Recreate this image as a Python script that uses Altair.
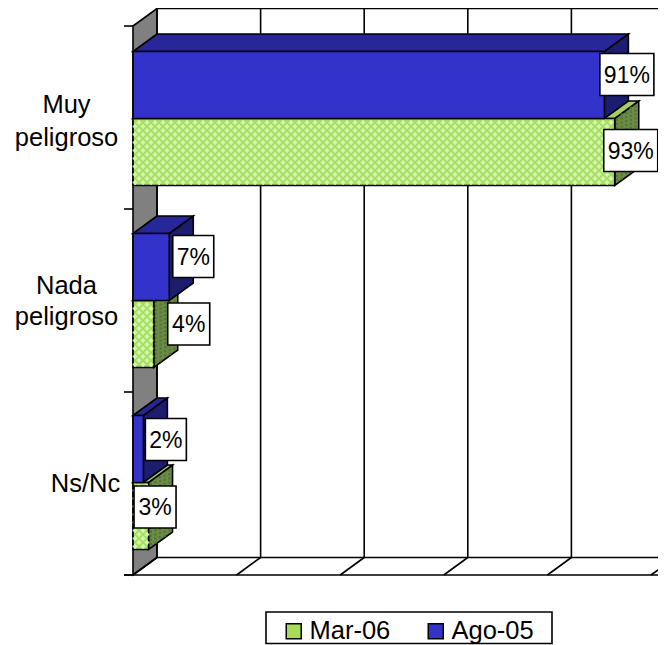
import altair as alt
import pandas as pd

categories = ["Muy peligroso", "Nada peligroso", "Ns/Nc"]
series_names = ["Mar-06", "Ago-05"]
mar_06 = [93, 4, 3]
ago_05 = [91, 7, 2]
grid_ticks = [0, 20, 40, 60, 80, 100]
category_edges = [0, 1, 2, 3]
label_texts = {"Mar-06": ["93%", "4%", "3%"], "Ago-05": ["91%", "7%", "2%"]}

# Scale set-up (style/layout, not data)
W, H = 650, 637
PX_X = 5.18        # px per percent
PX_Y = 183.0       # px per category band
X0, Y0 = 125.0, 567.0  # chart px of the value origin
DX = 24 / PX_X     # depth of the 3D box, data units
DY = 17.5 / PX_Y
BAR = 67 / PX_Y
xs = alt.Scale(domain=[-X0 / PX_X, (W - X0) / PX_X], nice=False, zero=False)
ys = alt.Scale(domain=[(Y0 - H) / PX_Y, Y0 / PX_Y], nice=False, zero=False)
X = lambda f="x": alt.X(f"{f}:Q", scale=xs, axis=None)
Y = lambda f="y": alt.Y(f"{f}:Q", scale=ys, axis=None)
X2 = alt.X2("x2:Q")
Y2 = alt.Y2("y2:Q")
px = lambda v: v / PX_X  # px length in x units
py = lambda v: v / PX_Y

LW = 1.6
INK = "#000000"
GREEN = "#a9dc5c"
BLUE = "#3333cc"
colors = {
    "Mar-06": dict(front=GREEN, top="#a5cf62", side="#6c8c46"),
    "Ago-05": dict(front=BLUE, top="#272799", side="#1d1d70"),
}
band_nudge_px = [-1.0, 0.0, 1.0]  # bars are not perfectly centred in their bands

top_y = 3.0
layers = []

# left wall
layers.append(
    alt.Chart(pd.DataFrame({"x": [0, DX], "y": [top_y, top_y + DY], "y2": [0, DY]}))
    .mark_area(color="#808080", stroke=INK, strokeWidth=LW)
    .encode(x=X(), y=Y(), y2=Y2)
)

# back-wall gridlines, back floor and top line
layers.append(
    alt.Chart(pd.DataFrame({"x": [t + DX for t in grid_ticks]}))
    .mark_rule(color=INK, strokeWidth=LW)
    .encode(x=X(), y=alt.datum(top_y + DY, scale=ys, axis=None), y2=alt.datum(DY))
)
layers.append(
    alt.Chart(pd.DataFrame({"y": [top_y + DY, DY], "x": [DX, DX], "x2": [120, 120]}))
    .mark_rule(color=INK, strokeWidth=LW)
    .encode(y=Y(), x=X(), x2=X2)
)
# floor diagonals
floor = pd.DataFrame(
    [{"x": t, "y": 0, "t": t} for t in grid_ticks] + [{"x": t + DX, "y": DY, "t": t} for t in grid_ticks]
)
layers.append(
    alt.Chart(floor).mark_line(color=INK, strokeWidth=LW, clip=True).encode(x=X(), y=Y(), detail="t:N")
)
# front floor line with its tick
layers.append(
    alt.Chart(pd.DataFrame({"y": [0], "x": [-px(9)], "x2": [120]}))
    .mark_rule(color=INK, strokeWidth=LW)
    .encode(y=Y(), x=X(), x2=X2)
)
# category ticks
layers.append(
    alt.Chart(pd.DataFrame({"y": category_edges, "x": [-px(9)] * 4, "x2": [0] * 4}))
    .mark_rule(color=INK, strokeWidth=LW)
    .encode(y=Y(), x=X(), x2=X2)
)

# 3D bars
rows = []
for name, vals, sign in (("Mar-06", mar_06, -1), ("Ago-05", ago_05, 1)):
    for i, v in enumerate(vals):
        centre = 2.5 - i + py(band_nudge_px[i])
        lo = centre if sign > 0 else centre - BAR
        hi = lo + BAR
        rows.append(dict(series=name, v=v, lo=lo, hi=hi, i=i))

for name in series_names:
    c = colors[name]
    for r in [r for r in rows if r["series"] == name]:
        side = pd.DataFrame({"x": [r["v"], r["v"] + DX], "y": [r["hi"], r["hi"] + DY], "y2": [r["lo"], r["lo"] + DY]})
        layers.append(
            alt.Chart(side).mark_area(color=c["side"], stroke=INK, strokeWidth=LW).encode(x=X(), y=Y(), y2=Y2)
        )
        top = pd.DataFrame({"y": [r["hi"], r["hi"] + DY], "x": [0, DX], "x2": [r["v"], r["v"] + DX]})
        layers.append(
            alt.Chart(top)
            .mark_area(color=c["top"], stroke=INK, strokeWidth=LW, orient="horizontal")
            .encode(y=Y(), x=X(), x2=X2)
        )
    if name == "Mar-06":
        # hatching on the darker side faces of the green bars
        tex = []
        for r in [r for r in rows if r["series"] == name]:
            for k in range(1, 6):
                for j in range(0, 20):
                    fx = (k - 0.5) * 4.6
                    fy = j * 4 + (2 if k % 2 else 0) + 2
                    h = (r["hi"] - r["lo"]) * PX_Y
                    if fy < h - 1:
                        tex.append(dict(x=r["v"] + px(fx), y=r["lo"] + py(fy) + py(fx * 17.5 / 24)))
        layers.append(
            alt.Chart(pd.DataFrame(tex))
            .mark_point(shape="square", filled=True, size=5, color="#55733a", opacity=1)
            .encode(x=X(), y=Y())
        )

# legend frame, behind the legend itself
layers.append(
    alt.Chart(pd.DataFrame({"x": [-px(125 - 258)], "x2": [-px(125 - 544)], "y": [-py(37)], "y2": [-py(68.5)]}))
    .mark_rect(fill="white", stroke=INK, strokeWidth=LW)
    .encode(x=X(), x2=X2, y=Y(), y2=Y2)
)

front = pd.DataFrame(
    [dict(series=r["series"], x=0, x2=r["v"], y=r["lo"], y2=r["hi"]) for r in rows]
)
layers.append(
    alt.Chart(front)
    .mark_rect(stroke=INK, strokeWidth=LW)
    .encode(
        x=X(), x2=X2, y=Y(), y2=Y2,
        color=alt.Color(
            "series:N",
            sort=series_names,
            scale=alt.Scale(domain=series_names, range=[GREEN, BLUE]),
            legend=alt.Legend(
                title=None, orient="none", legendX=270, legendY=607, direction="horizontal",
                columns=2, symbolType="square", symbolSize=225, symbolStrokeColor=INK, symbolStrokeWidth=1.5,
                labelFont="Liberation Sans", labelFontSize=25.5, labelColor=INK, labelOffset=3,
                padding=3, columnPadding=32, offset=0, symbolOpacity=1,
            ),
        ),
    )
)

# light crosses of the green pattern on the front faces
tex = []
for r in [r for r in rows if r["series"] == "Mar-06"]:
    w = r["v"] * PX_X
    h = (r["hi"] - r["lo"]) * PX_Y
    row = 0
    fy = 3.0
    while fy < h - 1:
        fx = 4.0 if row % 2 else 0.0
        fx += 2.0
        while fx < w - 1:
            tex.append(dict(x=px(fx), y=r["lo"] + py(fy)))
            fx += 8.0
        fy += 4.0
        row += 1
layers.append(
    alt.Chart(pd.DataFrame(tex))
    .mark_point(shape="cross", filled=True, size=22, color="#cff9b2", opacity=1, strokeWidth=0)
    .encode(x=X(), y=Y())
)

# data-label boxes: centres in chart px relative to the bar end
label_offset = {  # (dx from value end, dy above band centre), px
    "Ago-05": [(22.5, 43), (24, 44), (22.5, 44)],
    "Mar-06": [(16, -33), (35, -23.5), (6.5, -23.5)],
}
box_w = {"91%": 54, "93%": 54, "7%": 41, "4%": 42, "2%": 41, "3%": 42}
lab = []
for name, vals in (("Mar-06", mar_06), ("Ago-05", ago_05)):
    for i, v in enumerate(vals):
        dx, dy = label_offset[name][i]
        t = label_texts[name][i]
        cx = v + px(dx)
        cy = 2.5 - i + py(dy)
        lab.append(dict(x=cx - px(box_w[t] / 2), x2=cx + px(box_w[t] / 2), y=cy - py(21), y2=cy + py(21), cx=cx, cy=cy, t=t))
lab = pd.DataFrame(lab)
layers.append(
    alt.Chart(lab).mark_rect(fill="white", stroke=INK, strokeWidth=LW).encode(x=X(), x2=X2, y=Y(), y2=Y2)
)
layers.append(
    alt.Chart(lab)
    .mark_text(font="Liberation Sans", fontSize=23, color="#000000", align="center", baseline="middle", dy=1)
    .encode(x=X("cx"), y=Y("cy"), text="t:N")
)

# category labels, one row per line
cat_lines = pd.DataFrame(
    {
        "t": ["Muy", "peligroso", "Nada", "peligroso", categories[2]],
        "x": [-px(66.5), -px(66.5), -px(66.5), -px(66.5), -px(47.5)],
        "y": [2.5 + py(13), 2.5 - py(20), 1.5 + py(15), 1.5 - py(16), 0.5 + py(0)],
    }
)
layers.append(
    alt.Chart(cat_lines)
    .mark_text(font="Liberation Sans", fontSize=25.5, color="#000000", align="center", baseline="middle")
    .encode(x=X(), y=Y(), text="t:N")
)

chart = (
    alt.layer(*layers)
    .properties(width=W, height=H, padding=0, autosize=alt.AutoSizeParams(type="none"))
    .configure_view(stroke="transparent", strokeWidth=0)
)
chart.save("out.html", embed_options={"renderer": "svg", "actions": False})
